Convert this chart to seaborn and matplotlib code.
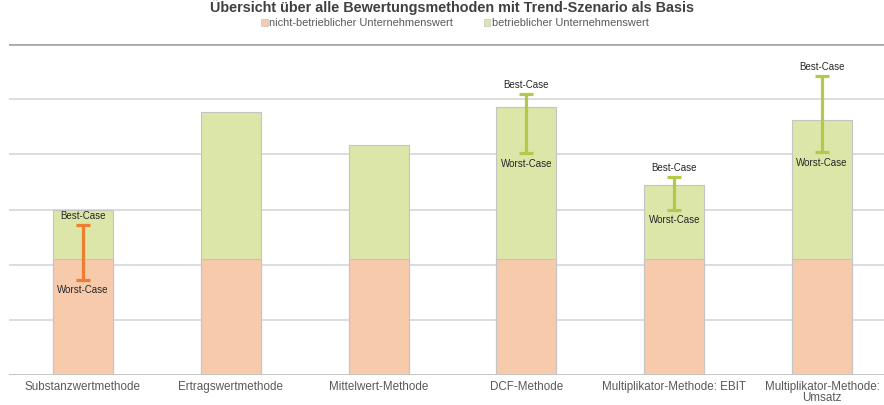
import numpy as np
import matplotlib
matplotlib.use("Agg")
import matplotlib.pyplot as plt
from matplotlib.patches import Patch
import seaborn as sns

# ------------------------
# DATA (units = gridline steps x10)
# ------------------------
methods = ["Substanzwertmethode", "Ertragswertmethode", "Mittelwert-Methode",
           "DCF-Methode", "Multiplikator-Methode: EBIT", "Multiplikator-Methode:\nUmsatz"]
nicht_betrieblich = [21.0, 21.0, 21.0, 21.0, 21.0, 21.0]
betrieblich = [9.0, 26.7, 20.7, 27.6, 13.4, 25.2]
worst_case = [17.3, np.nan, np.nan, 40.2, 29.9, 40.4]
best_case = [27.2, np.nan, np.nan, 50.9, 35.9, 54.2]
err_colors = ["#ED7D31", None, None, "#B2C94A", "#B2C94A", "#B2C94A"]

title = "Übersicht über alle Bewertungsmethoden mit Trend-Szenario als Basis"
legend_labels = ["nicht-betrieblicher Unternehmenswert", "betrieblicher Unternehmenswert"]

PINK = "#F7CAAC"
GREEN = "#DCE6A8"
EDGE = "#C4C4C4"

# ------------------------
# PLOT
# ------------------------
sns.set_theme(style="white")
plt.rcParams['font.family'] = ['Liberation Sans', 'DejaVu Sans']

fig = plt.figure(figsize=(8.84, 4.05), dpi=100)
ax = fig.add_axes([9 / 884, 30 / 405, 887 / 884, 331 / 405])

totals = [a + b for a, b in zip(nicht_betrieblich, betrieblich)]

sns.barplot(x=methods, y=totals, color=GREEN, width=0.405, saturation=1,
            edgecolor=EDGE, linewidth=0.8, ax=ax, zorder=2)
sns.barplot(x=methods, y=nicht_betrieblich, color=PINK, width=0.405, saturation=1,
            edgecolor=EDGE, linewidth=0.8, ax=ax, zorder=2)

# error bars with labels
for i, (lo, hi, c) in enumerate(zip(worst_case, best_case, err_colors)):
    if np.isnan(lo):
        continue
    mid = (lo + hi) / 2
    ax.errorbar(i, mid, yerr=[[mid - lo], [hi - mid]], fmt="none", ecolor=c,
                elinewidth=2.3, capsize=5.2, capthick=2.3, zorder=4)
    ax.annotate("Best-Case", (i, hi), xytext=(0, 6.8), textcoords="offset points",
                ha="center", va="center", fontsize=7, color="#262626", zorder=5)
    ax.annotate("Worst-Case", (i, lo), xytext=(0, -7.5), textcoords="offset points",
                ha="center", va="center", fontsize=7, color="#262626", zorder=5)

ax.set_xlim(-0.5, 5.5)
ax.set_ylim(0, 60)
ax.set_yticks(np.arange(0, 61, 10))
ax.set_yticklabels([])
ax.yaxis.grid(True, color="#D3D3D3", linewidth=1.1, zorder=0)
ax.set_axisbelow(True)
ax.axhline(60, color="#A9A9A9", linewidth=2.0, zorder=1)
ax.axhline(0, color="#C4C4C4", linewidth=1.3, zorder=3)
for s in ax.spines.values():
    s.set_visible(False)
ax.tick_params(axis="both", length=0)
ax.tick_params(axis="x", pad=4.5, labelsize=8.4, labelcolor="#595959")
for lab in ax.get_xticklabels():
    lab.set_linespacing(0.88)
    lab.set_verticalalignment("top")
ax.set_xlabel("")
ax.set_ylabel("")

fig.text(452 / 884, 1 - 12 / 405, title, ha="center", va="baseline",
         fontsize=10.4, fontweight="bold", color="#404040")

handles = [Patch(facecolor=PINK, edgecolor=EDGE, linewidth=0.5),
           Patch(facecolor=GREEN, edgecolor=EDGE, linewidth=0.5)]
fig.legend(handles, legend_labels, loc="center", bbox_to_anchor=(455 / 884, 1 - 23 / 405),
           ncol=2, frameon=False, fontsize=7.9, labelcolor="#595959",
           handlelength=0.6, handleheight=0.6, handletextpad=0.15, columnspacing=2.8)

fig.savefig("out.png", dpi=100)
